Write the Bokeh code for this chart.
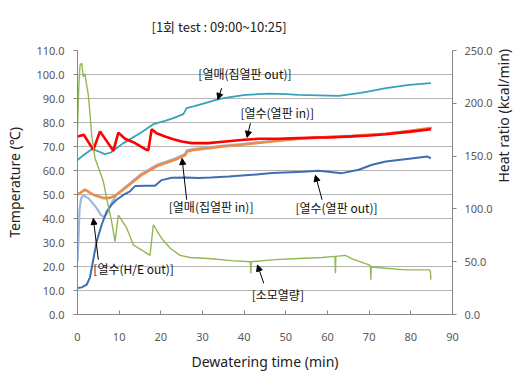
import math
from bokeh.plotting import figure
from bokeh.models import (Range1d, LinearAxis, FixedTicker, NumeralTickFormatter,
                          Label, Arrow, NormalHead)
from bokeh.embed import file_html
from bokeh.resources import INLINE

# ---------------- data ----------------
x_ticks = [0, 10, 20, 30, 40, 50, 60, 70, 80, 90]
temp_ticks = [0, 10, 20, 30, 40, 50, 60, 70, 80, 90, 100, 110]
heat_ticks = [0, 50, 100, 150, 200, 250]

# [열매(집열판 out)]  (teal)
t_cout = [0, 1.5, 3.5, 5, 6.5, 8, 11, 15, 18.2, 21, 23, 25.4, 26.2, 27.8, 30, 33.9, 37,
          40.3, 45.9, 50, 53.1, 57.9, 62.7, 67.5, 70, 74, 79.6, 84.8]
v_cout = [64.4, 66.5, 69.0, 68.0, 66.8, 67.5, 71.4, 75.5, 79.3, 80.7, 81.8, 83.5, 86.0, 86.7,
          87.8, 89.7, 90.7, 91.5, 92.0, 91.8, 91.5, 91.3, 91.1, 92.2, 93.0, 94.3, 95.7, 96.4]

# [열수(열판 in)]  (red)
t_hin = [0, 1.5, 3.8, 5.4, 8.6, 9.8, 11.4, 13.4, 16.6, 17.0, 17.8, 19, 21, 23, 25, 27.4,
         31.4, 35.5, 40, 43.5, 48.3, 53.1, 57.9, 60.3, 65.9, 70, 74, 80, 84.8]
v_hin = [74.2, 74.9, 68.6, 76.3, 68.2, 75.8, 73.2, 71.8, 68.6, 68.5, 77.2, 75.5, 74.2, 73.0,
         72.1, 71.4, 71.4, 72.1, 72.8, 73.2, 73.2, 73.5, 73.75, 73.75, 74.2, 74.6, 75.1, 76.2, 77.2]

# [열매(집열판 in)]  (orange)
t_cin = [0, 1.8, 3.8, 6.2, 7.8, 9.0, 11.4, 13.5, 15.4, 17.5, 19.4, 21.5, 23.4, 25.8, 26.3,
         28, 31.4, 35, 39.4, 45, 53.1, 60, 66, 74, 80, 85]
v_cin = [49.9, 52.0, 49.9, 48.5, 48.6, 49.5, 52.6, 55.5, 58.2, 60.3, 62.1, 63.3, 64.5, 66.3,
         67.9, 68.6, 69.3, 70.0, 70.7, 71.8, 73.2, 73.9, 74.4, 75.3, 76.5, 77.8]

# [열수(H/E out)]  (light blue)
t_heout = [0, 0.2, 0.5, 0.9, 1.4, 2.6, 3.6, 4.6, 5.6, 6.4, 7.2, 8.2, 9.4, 11.4, 13.5, 15.4,
           17.5, 19.4, 21.5, 23.4, 25.8, 26.2, 28, 31.4, 35, 39.4, 45, 53.1, 60, 66, 74, 80, 85]
v_heout = [22.0, 30.0, 44.0, 48.5, 49.6, 48.5, 46.5, 44.3, 41.5, 40.6, 42.5, 46.5, 50.0, 53.0,
           56.0, 58.7, 60.8, 62.6, 63.8, 65.0, 66.9, 68.4, 69.0, 69.7, 70.4, 71.0, 72.0, 73.4,
           74.0, 74.5, 75.4, 76.6, 77.6]

# [열수(열판 out)]  (dark blue)
t_hout = [0, 1.0, 2.2, 3.0, 3.8, 4.6, 5.8, 7.0, 8.2, 9.4, 11, 12.6, 13.8, 16.6, 18.6, 20.2,
          22.6, 26.2, 29, 32, 36.3, 42, 46.7, 54, 57.9, 63.5, 67.5, 70.7, 74, 79.6, 84, 84.8]
v_hout = [11.0, 11.3, 12.4, 15.5, 23.0, 30.4, 37.4, 42.9, 45.8, 47.8, 49.8, 51.3, 53.5, 53.6,
          53.6, 56.0, 57.0, 57.1, 56.9, 57.1, 57.5, 58.2, 59.0, 59.5, 59.9, 58.9, 60.3, 62.4,
          63.75, 64.9, 65.8, 65.1]

# [소모열량]  (green, heat ratio axis)
t_heat = [0, 0.3, 0.6, 1.0, 1.4, 1.8, 2.2, 2.6, 3.0, 3.4, 4.2, 5.4, 6.2, 7.0, 8.2, 9.0, 9.8,
          11.8, 13.4, 15.8, 17.4, 18.2, 20.2, 22.2, 24.6, 27, 31.4, 37, 41.5, 41.6, 41.7, 47.5,
          53.1, 58.7, 61.8, 61.9, 62.0, 64.3, 65.9, 70.0, 70.3, 70.4, 70.5, 74, 78.8, 84.4,
          84.7, 84.8]
v_heat = [175, 215, 236, 238, 225, 228, 217, 208, 190, 170, 148, 135, 126, 110, 88, 69, 94,
          82, 66, 60, 56, 85, 72, 63, 56, 54, 53, 51, 50, 39, 50, 52, 53, 54, 55, 39, 55, 56,
          52.7, 47, 46, 33, 45, 43.8, 42.3, 42.3, 41, 33]

# ---------------- figure ----------------
KR = "Noto Sans CJK KR"
NUM = "Noto Sans"

p = figure(frame_width=375, frame_height=264,
           x_range=Range1d(0, 90), y_range=Range1d(0, 110),
           output_backend="svg", toolbar_location=None,
           min_border_left=77, min_border_right=54, min_border_top=45,
           min_border_bottom=52)
p.extra_y_ranges = {"heat": Range1d(0, 250)}
p.background_fill_color = "white"
p.border_fill_color = "white"
p.outline_line_color = None

p.title.text = "[1회 test : 09:00~10:25]"
p.title.text_font = KR
p.title.text_font_size = "13px"
p.title.text_font_style = "normal"
p.title.text_color = "#222222"
p.title.align = "left"
p.title.offset = 74
p.title.standoff = 29

axis_color = "#868686"
tick_color = "#595959"

xa = p.xaxis[0]
xa.ticker = FixedTicker(ticks=x_ticks)
xa.axis_label = "Dewatering time (min)"
xa.major_tick_in = 4
xa.major_tick_out = 0
xa.major_label_standoff = 18

ya = p.yaxis[0]
ya.ticker = FixedTicker(ticks=temp_ticks)
ya.formatter = NumeralTickFormatter(format="0.0")
ya.axis_label = "Temperature (℃)"
ya.major_tick_in = 0
ya.major_tick_out = 4
ya.major_label_standoff = 9

ra = LinearAxis(y_range_name="heat", ticker=FixedTicker(ticks=heat_ticks),
                formatter=NumeralTickFormatter(format="0.0"),
                axis_label="Heat ratio (kcal/min)")
ra.major_tick_in = 0
ra.major_tick_out = 4
ra.major_label_standoff = 8
ra.axis_label_orientation = math.pi / 2
p.add_layout(ra, "right")

for ax in (xa, ya, ra):
    ax.axis_line_color = axis_color
    ax.major_tick_line_color = axis_color
    ax.minor_tick_line_color = None
    ax.major_label_text_font = NUM
    ax.major_label_text_font_size = "11px"
    ax.major_label_text_color = tick_color
    ax.axis_label_text_font = NUM
    ax.axis_label_text_font_size = "14px"
    ax.axis_label_text_font_style = "normal"
    ax.axis_label_text_color = "#222222"
ya.axis_label_standoff = 9
ra.axis_label_standoff = 8
xa.axis_label_standoff = 8

p.xgrid.visible = False
p.ygrid.ticker = FixedTicker(ticks=temp_ticks)
p.ygrid.grid_line_color = "#B4B4B4"
p.ygrid.grid_line_width = 1

# ---------------- series ----------------
p.line(t_cout, v_cout, line_color="#34A2B8", line_width=1.8)
p.line(t_heout, v_heout, line_color="#9DB8DC", line_width=2.2)
p.line(t_cin, v_cin, line_color="#EE8A4A", line_width=2.6)
p.line(t_hin, v_hin, line_color="#FF0000", line_width=2.6)
p.line(t_hout, v_hout, line_color="#3F6DB2", line_width=2.0)
p.line(t_heat, v_heat, line_color="#93B853", line_width=1.4, y_range_name="heat")

# ---------------- annotations ----------------
notes = [
    ("[열매(집열판 out)]", 29.0, 100.5, 34.6, 94.3, 33.7, 89.6),
    ("[열수(열판 in)]", 39.1, 84.2, 41.5, 79.7, 40.7, 73.8),
    ("[열매(집열판 in)]", 21.9, 45.0, 26.2, 47.8, 25.1, 65.0),
    ("[열수(열판 out)]", 52.3, 44.6, 58.7, 47.8, 57.1, 58.0),
    ("[열수(H/E out)]", 3.8, 19.3, 5.0, 22.8, 3.8, 40.0),
    ("[소모열량]", 41.8, 8.3, 44.7, 13.0, 43.2, 20.6),
]
for txt, tx, ty, xs, ys, xe, ye in notes:
    p.add_layout(Label(x=tx, y=ty, text=txt, text_font=KR, text_font_size="12px",
                       text_baseline="middle", text_align="left", text_color="#111111"))
    p.add_layout(Arrow(x_start=xs, y_start=ys, x_end=xe, y_end=ye,
                       line_color="black", line_width=1,
                       end=NormalHead(size=6, line_color="black", fill_color="black",
                                      line_width=1)))

open("out.html", "w").write(file_html(p, INLINE))
